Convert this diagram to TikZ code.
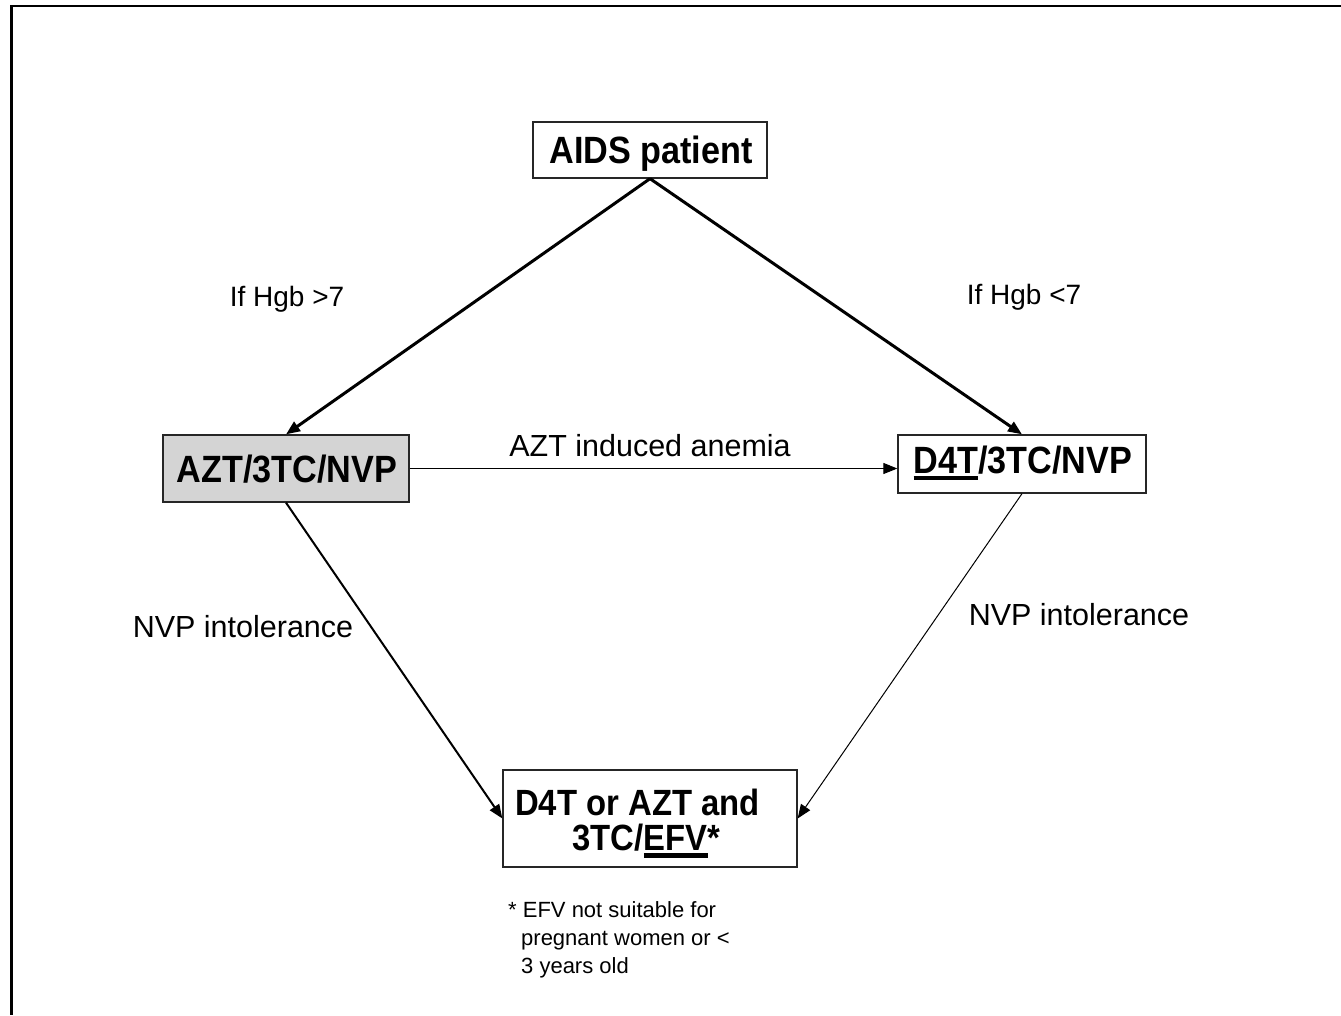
\documentclass[tikz,border=0pt]{standalone}
\usepackage{fontspec}
\setmainfont{Liberation Sans}
\newfontfamily\boxfont[FakeStretch=0.9]{Liberation Sans}
\usetikzlibrary{arrows.meta}
\newcommand\thul[1]{\vtop{\hbox{#1}\kern2.5pt\hrule height 4.5pt}}
\tikzset{
  box/.style={draw=black!85, line width=1.3pt, inner sep=0pt},
  boxtxt/.style={inner sep=0pt, font=\boxfont\bfseries\fontsize{38}{31}\selectfont, align=center},
  lbl/.style={inner sep=0pt, anchor=base, font=\fontsize{28}{32}\selectfont},
  lblw/.style={inner sep=0pt, anchor=base, font=\fontsize{30.5}{34}\selectfont},
  fn/.style={inner sep=0pt, anchor=base west, font=\fontsize{22}{28}\selectfont},
  arr/.style={-{Triangle[length=14pt,width=11pt]}, black},
}
\begin{document}
\begin{tikzpicture}[x=1pt,y=-1pt]
\useasboundingbox (0,0) rectangle (1341,1015);
\coordinate (tr) at (1341,6);
\coordinate (tl) at (11.5,6);
\coordinate (bl) at (11.5,1015);
\draw[line width=2.5pt] (tr) -- (tl) -- (bl);

% boxes
\node[box, minimum width=234pt, minimum height=56pt] (aids) at (650,150) {};
\node[box, fill=black!17, minimum width=246pt, minimum height=67pt] (azt) at (286,468.5) {};
\node[box, minimum width=248pt, minimum height=58pt] (d4t) at (1022,464) {};
\node[box, minimum width=294pt, minimum height=97pt] (fin) at (650,818.5) {};

% box texts
\node[boxtxt, anchor=base] (aidst) at (651,163) {AIDS patient};
\node[boxtxt, anchor=base] (aztt) at (287,482) {AZT/3TC/NVP};
\node[boxtxt, anchor=base] (d4tt) at (1023,473) {\thul{D4T}/3TC/NVP};
\node[boxtxt, anchor=north, font=\boxfont\bfseries\fontsize{36.5}{35}\selectfont] (fint) at (646.5,789) {D4T or AZT and\kern18pt\\3TC/\thul{EFV}*};

% connectors
\draw[arr, line width=3pt] (aids.south) -- (azt.north);
\draw[arr, line width=3pt] (aids.south) -- (d4t.north);
\draw[arr, line width=1pt] (azt.east) -- (azt.east -| d4t.west);
\draw[arr, line width=2pt] (azt.south) -- (fin.west);
\draw[arr, line width=1pt] (d4t.south) -- (fin.east);

% labels
\node[lbl] (l1) at (287,306) {If Hgb >7};
\node[lbl] (l2) at (1024,304) {If Hgb <7};
\node[lblw] (l3) at (650,456) {AZT induced anemia};
\node[lblw] (l4) at (243,637) {NVP intolerance};
\node[lblw] (l5) at (1079,625) {NVP intolerance};

% footnote
\node[fn] (fn1) at (508,917) {* EFV not suitable for};
\node[fn] (fn2) at (521,945) {pregnant women or <};
\node[fn] (fn3) at (521,973) {3 years old};
\end{tikzpicture}
\end{document}
